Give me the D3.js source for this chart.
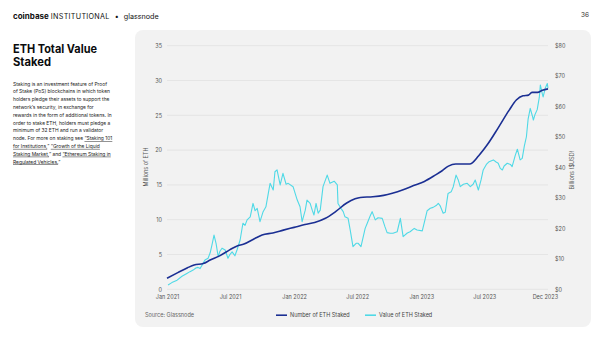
<!DOCTYPE html>
<html><head><meta charset="utf-8">
<script src="https://cdn.jsdelivr.net/npm/d3@7"></script>
<style>
html,body{margin:0;padding:0;background:#fff;}
svg{display:block;font-family:Inter,"Noto Sans",sans-serif;}
</style></head>
<body><svg id="c" width="600" height="338"></svg>
<script>
// ---- data ----
const stakedDates = ["2021-01-01","2021-02-01","2021-03-01","2021-03-20","2021-04-15","2021-05-05","2021-06-01","2021-07-01","2021-07-20","2021-08-10","2021-09-10","2021-10-01","2021-11-01","2021-12-01","2022-01-01","2022-02-01","2022-03-01","2022-04-01","2022-05-01","2022-06-01","2022-06-25","2022-07-10","2022-08-15","2022-09-15","2022-10-10","2022-11-10","2022-12-10","2023-01-10","2023-02-10","2023-03-01","2023-03-20","2023-04-10","2023-05-20","2023-06-15","2023-07-10","2023-08-10","2023-09-10","2023-10-01","2023-10-20","2023-11-05","2023-11-15","2023-12-01","2023-12-15","2023-12-31"];
const stakedEth = [1.6,2.4,3.1,3.5,3.7,4.2,4.8,5.7,6.2,6.5,7.3,7.8,8.1,8.5,8.9,9.3,9.6,10.2,11.2,12.4,13.0,13.2,13.3,13.5,13.8,14.3,14.9,15.5,16.4,17.0,17.7,18.0,18.0,19.2,20.8,23.2,25.7,27.2,27.8,27.9,28.3,28.3,28.6,28.8];

const valueDates = ["2021-01-04","2021-01-15","2021-01-30","2021-02-13","2021-02-27","2021-03-08","2021-03-17","2021-03-25","2021-03-31","2021-04-06","2021-04-12","2021-04-20","2021-04-29","2021-05-05","2021-05-10","2021-05-16","2021-05-22","2021-05-28","2021-06-02","2021-06-08","2021-06-17","2021-06-25","2021-07-01","2021-07-07","2021-07-15","2021-07-21","2021-07-30","2021-08-07","2021-08-13","2021-08-19","2021-08-28","2021-09-05","2021-09-11","2021-09-17","2021-09-25","2021-10-04","2021-10-12","2021-10-24","2021-11-02","2021-11-07","2021-11-13","2021-11-22","2021-11-30","2021-12-09","2021-12-15","2021-12-29","2022-01-10","2022-01-18","2022-01-24","2022-02-02","2022-02-07","2022-02-16","2022-02-22","2022-02-27","2022-03-05","2022-03-11","2022-03-17","2022-03-25","2022-04-06","2022-04-14","2022-04-26","2022-05-05","2022-05-07","2022-05-16","2022-05-22","2022-05-27","2022-06-05","2022-06-11","2022-06-19","2022-06-28","2022-07-04","2022-07-12","2022-07-24","2022-07-30","2022-08-07","2022-08-13","2022-08-22","2022-08-30","2022-09-11","2022-09-19","2022-09-25","2022-10-04","2022-10-12","2022-10-24","2022-11-02","2022-11-10","2022-11-22","2022-11-30","2022-12-12","2022-12-20","2023-01-04","2023-01-12","2023-01-18","2023-01-27","2023-02-04","2023-02-13","2023-02-19","2023-02-24","2023-03-05","2023-03-11","2023-03-19","2023-03-28","2023-04-03","2023-04-11","2023-04-17","2023-04-23","2023-05-02","2023-05-13","2023-05-22","2023-05-30","2023-06-05","2023-06-14","2023-06-22","2023-06-28","2023-07-07","2023-07-15","2023-07-27","2023-08-04","2023-08-10","2023-08-16","2023-08-22","2023-08-27","2023-09-05","2023-09-14","2023-09-19","2023-09-28","2023-10-04","2023-10-12","2023-10-18","2023-10-24","2023-10-30","2023-11-04","2023-11-10","2023-11-16","2023-11-19","2023-11-24","2023-11-30","2023-12-06","2023-12-09","2023-12-15","2023-12-17","2023-12-23","2023-12-29","2023-12-31"];
const valueUsd = [1.4,2.2,3.0,4.3,5.2,5.8,6.3,7.0,7.2,6.8,8.0,9.6,10.2,12.0,14.5,17.8,15.0,10.7,12.5,13.5,12.9,10.2,11.5,12.3,11.0,12.9,16.2,21.7,21.0,22.8,23.8,28.2,25.8,26.6,22.2,25.5,27.1,34.8,32.6,38.6,39.2,34.3,38.1,34.5,34.8,33.7,29.3,27.1,22.2,26.0,29.3,28.2,26.0,24.4,28.2,25.0,26.0,33.7,37.5,34.8,35.5,34.3,28.2,26.5,25.5,23.8,23.3,19.5,14.0,15.1,15.1,14.0,20.0,21.7,24.0,25.5,22.8,23.5,23.3,20.5,18.6,18.4,18.4,18.9,23.3,17.3,18.5,18.9,20.0,19.5,19.2,23.0,25.8,26.6,26.9,27.5,28.2,27.5,25.0,25.3,31.5,32.0,33.7,37.5,36.0,33.7,34.5,34.8,33.7,34.5,35.9,32.6,36.0,39.2,41.0,41.9,42.5,41.8,41.4,39.7,39.2,40.5,41.4,41.0,40.3,44.0,46.0,42.5,43.0,47.0,50.1,56.0,59.4,57.0,55.6,57.5,59.0,63.0,67.1,64.0,63.2,66.0,67.6,66.0];

const leftTicks = [0,5,10,15,20,25,30,35];
const rightTicks = [0,10,20,30,40,50,60,70,80];
const xTickDates = ["2021-01-01","2021-07-01","2022-01-01","2022-07-01","2023-01-01","2023-07-01","2023-12-22"];
const xTickLabels = ["Jan 2021","Jul 2021","Jan 2022","Jul 2022","Jan 2023","Jul 2023","Dec 2023"];
const seriesNames = ["Number of ETH Staked","Value of ETH Staked"];

const bodyLines = [
  [["Staking is an investment feature of Proof",0]],
  [["of Stake (PoS) blockchains in which token",0]],
  [["holders pledge their assets to support the",0]],
  [["network’s security, in exchange for",0]],
  [["rewards in the form of additional tokens. In",0]],
  [["order to stake ETH, holders must pledge a",0]],
  [["minimum of 32 ETH and run a validator",0]],
  [["node. For more on staking see ",0],["“Staking 101",1]],
  [["for Institutions,",1],["” ",0],["“Growth of the Liquid",1]],
  [["Staking Market,",1],["” and ",0],["“Ethereum Staking in",1]],
  [["Regulated Vehicles.",1],["”",0]]
];

// ---- drawing ----
const parse = d3.timeParse("%Y-%m-%d");
const svg = d3.select("#c");
const navy = "#1b2f93", cyan = "#4fd9e6";

// header
const hdr = svg.append("text").attr("x",13).attr("y",19).attr("font-size",7.2).attr("fill","#111");
hdr.append("tspan").attr("font-weight",700).attr("font-size",8).text("coinbase");
hdr.append("tspan").attr("dx",2).attr("letter-spacing",0.3).text("INSTITUTIONAL");
hdr.append("tspan").attr("dx",5).text("•");
hdr.append("tspan").attr("dx",5).text("glassnode");
svg.append("text").attr("x",589).attr("y",17).attr("text-anchor","end").attr("font-size",6.5).attr("fill","#333").text("36");

// title
svg.append("text").attr("x",13).attr("y",52.5).attr("font-size",11.5).attr("font-weight",700).attr("fill","#0a0b0d")
  .attr("textLength",84).attr("lengthAdjust","spacingAndGlyphs").text("ETH Total Value");
svg.append("text").attr("x",13).attr("y",66).attr("font-size",11.5).attr("font-weight",700).attr("fill","#0a0b0d")
  .attr("textLength",38).attr("lengthAdjust","spacingAndGlyphs").text("Staked");

bodyLines.forEach((parts,i)=>{
  const t = svg.append("text").attr("x",13).attr("y",85.5+i*7.8).attr("font-size",4.9).attr("fill","#222");
  parts.forEach(p=>{
    const s = t.append("tspan").text(p[0]);
    if(p[1]) s.attr("text-decoration","underline");
  });
});

// panel
svg.append("rect").attr("x",135).attr("y",30).attr("width",456).attr("height",297).attr("rx",8).attr("fill","#f2f2f2");

const x = d3.scaleTime().domain([parse("2021-01-01"),parse("2023-12-31")]).range([167,548]);
const yL = d3.scaleLinear().domain([0,35]).range([289.3,45.7]);
const yR = d3.scaleLinear().domain([0,80]).range([289.3,45.7]);

// gridlines
svg.append("g").selectAll("line").data(leftTicks).join("line")
  .attr("x1",167).attr("x2",548).attr("y1",d=>yL(d)).attr("y2",d=>yL(d))
  .attr("stroke","#e1e1e1").attr("stroke-width",0.8);

const lblColor = "#555";
// left axis
const gl = svg.append("g").attr("transform","translate(162,0)")
  .call(d3.axisLeft(yL).tickValues(leftTicks).tickSize(0).tickPadding(0));
gl.select(".domain").remove();
gl.selectAll("text").attr("font-size",5.5).attr("fill",lblColor).attr("font-family","Inter,sans-serif");
// right axis
const gr = svg.append("g").attr("transform","translate(555,0)")
  .call(d3.axisRight(yR).tickValues(rightTicks).tickFormat(d=>"$"+d).tickSize(0).tickPadding(0));
gr.select(".domain").remove();
gr.selectAll("text").attr("font-size",5.5).attr("fill",lblColor).attr("font-family","Inter,sans-serif");
// x axis
const gx = svg.append("g").attr("transform","translate(0,295)")
  .call(d3.axisBottom(x).tickValues(xTickDates.map(parse)).tickFormat((d,i)=>xTickLabels[i]).tickSize(0).tickPadding(0));
gx.select(".domain").remove();
gx.selectAll("text").attr("font-size",5.5).attr("fill",lblColor).attr("font-family","Inter,sans-serif");

// axis titles
svg.append("text").attr("transform","translate(148,167) rotate(-90)").attr("text-anchor","middle")
  .attr("font-size",5.5).attr("fill",lblColor).text("Millions of ETH");
svg.append("text").attr("transform","translate(574,170) rotate(-90)").attr("text-anchor","middle")
  .attr("font-size",5.5).attr("fill",lblColor).text("Billions ($USD)");

// lines
const vData = valueDates.map((d,i)=>({d:parse(d),v:valueUsd[i]}));
const sData = stakedDates.map((d,i)=>({d:parse(d),v:stakedEth[i]}));
svg.append("path").datum(vData).attr("fill","none").attr("stroke",cyan).attr("stroke-width",1.1).attr("stroke-linejoin","round")
  .attr("d",d3.line().x(d=>x(d.d)).y(d=>yR(d.v)));
svg.append("path").datum(sData).attr("fill","none").attr("stroke",navy).attr("stroke-width",1.6).attr("stroke-linejoin","round")
  .attr("d",d3.line().x(d=>x(d.d)).y(d=>yL(d.v)).curve(d3.curveMonotoneX));

// footer
svg.append("text").attr("x",145).attr("y",317).attr("font-size",5.5).attr("fill","#666").text("Source: Glassnode");
const leg = [[276,navy,seriesNames[0]],[365,cyan,seriesNames[1]]];
leg.forEach(l=>{
  svg.append("line").attr("x1",l[0]).attr("x2",l[0]+11).attr("y1",315.2).attr("y2",315.2).attr("stroke",l[1]).attr("stroke-width",1.6);
  svg.append("text").attr("x",l[0]+14).attr("y",317).attr("font-size",5.5).attr("fill","#444").text(l[2]);
});
</script></body></html>
